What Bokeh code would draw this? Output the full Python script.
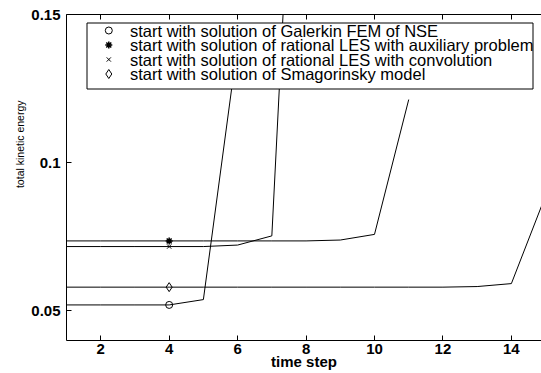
from bokeh.plotting import figure
from bokeh.models import (LinearAxis, FixedTicker, BoxAnnotation, Label, Title,
                          CustomLabelingPolicy)
from bokeh.embed import file_html
from bokeh.resources import INLINE

# ---------------- data ----------------
steps_galerkin = [1, 2, 3, 4, 5, 6]
ke_galerkin = [0.0520, 0.0520, 0.0520, 0.0520, 0.0538, 0.1400]

steps_aux = [1, 2, 3, 4, 5, 6, 7, 8, 9, 10, 11]
ke_aux = [0.0736, 0.0736, 0.0736, 0.0736, 0.0736, 0.0736, 0.0736, 0.0736,
          0.0739, 0.0758, 0.1213]

steps_conv = [1, 2, 3, 4, 5, 6, 7, 8]
ke_conv = [0.0717, 0.0717, 0.0717, 0.0717, 0.0717, 0.0722, 0.0753, 0.3030]

steps_smag = [1, 2, 3, 4, 5, 6, 7, 8, 9, 10, 11, 12, 13, 14, 15]
ke_smag = [0.0580, 0.0580, 0.0580, 0.0580, 0.0580, 0.0580, 0.0580, 0.0580,
           0.0580, 0.0580, 0.0580, 0.0580, 0.0582, 0.0592, 0.0889]

marker_step = 4

labels = [
    "start with solution of Galerkin FEM of NSE",
    "start with solution of rational LES with auxiliary problem",
    "start with solution of rational LES with convolution",
    "start with solution of Smagorinsky model",
]

x_ticks = [2, 4, 6, 8, 10, 12, 14]
x_tick_labels = ["2", "4", "6", "8", "10", "12", "14"]
y_ticks = [0.05, 0.1, 0.15]
y_tick_labels = ["0.05", "0.1", "0.15"]
x_label = "time step"
y_label = "total kinetic energy"

# ---------------- layout / style ----------------
FONT = "Liberation Sans"
X0, X1 = 1, 14.88
Y0, Y1 = 0.04, 0.15
FW, FH = 475, 326          # frame size in px
BL, BT, BB = 66, 14, 33    # borders

p = figure(frame_width=FW, frame_height=FH,
           x_range=(X0, X1), y_range=(Y0, Y1),
           min_border_left=BL, min_border_right=0,
           min_border_top=BT, min_border_bottom=BB,
           output_backend="svg", toolbar_location=None,
           background_fill_color="white", border_fill_color="white")
p.outline_line_color = None
p.xgrid.visible = False
p.ygrid.visible = False

# lines
series = [(steps_galerkin, ke_galerkin), (steps_aux, ke_aux),
          (steps_conv, ke_conv), (steps_smag, ke_smag)]
for xs, ys in series:
    p.line(xs, ys, line_color="black", line_width=1)

marker_styles = [
    dict(marker="circle", size=7, fill_color=None, line_color="black", line_width=1),
    dict(marker="asterisk", size=7, line_color="black", line_width=1.5),
    dict(marker="x", size=6, line_color="black", line_width=1),
    dict(marker="diamond", size=9, fill_color=None, line_color="black", line_width=1),
]

# markers at the starting step
for (xs, ys), st in zip(series, marker_styles):
    i = xs.index(marker_step)
    p.scatter([xs[i]], [ys[i]], **st)

# axes styling
xaxis = p.xaxis[0]
yaxis = p.yaxis[0]
xaxis.ticker = FixedTicker(ticks=x_ticks)
xaxis.major_label_overrides = dict(zip(x_ticks, x_tick_labels))
yaxis.ticker = FixedTicker(ticks=y_ticks)
yaxis.major_label_overrides = dict(zip(y_ticks, y_tick_labels))

for ax in (xaxis, yaxis):
    ax.axis_line_color = "black"
    ax.axis_line_width = 1
    ax.major_tick_line_color = "black"
    ax.minor_tick_line_color = None
    ax.major_tick_in = 5
    ax.major_tick_out = 0
    ax.major_label_text_font = FONT
    ax.major_label_text_font_size = "15px"
    ax.major_label_text_font_style = "bold"
    ax.major_label_text_color = "black"

xaxis.major_label_standoff = 3
xaxis.axis_label = x_label
xaxis.axis_label_text_font = FONT
xaxis.axis_label_text_font_size = "15px"
xaxis.axis_label_text_font_style = "bold"
xaxis.axis_label_standoff = -4
xaxis.axis_label_text_color = "black"

yaxis.major_label_standoff = 6

# top frame edge with inward ticks, no labels
top = LinearAxis(ticker=FixedTicker(ticks=x_ticks),
                 major_label_text_font_size="0px",
                 major_label_standoff=0,
                 major_label_policy=CustomLabelingPolicy(
                     code="for (const i of Array.from(indices)) indices.unset(i); return indices;"),
                 axis_line_color="black", axis_line_width=1,
                 major_tick_line_color="black", minor_tick_line_color=None,
                 major_tick_in=5, major_tick_out=0)
p.add_layout(top, "above")

# y label as a side title, placed towards the upper part like the reference
p.add_layout(Title(text=y_label, align="right", offset=86, standoff=6,
                   text_font=FONT, text_font_size="10.5px",
                   text_font_style="normal", text_color="black"), "left")

# ---------------- legend (box, keys, texts) ----------------
LG_LEFT, LG_RIGHT, LG_TOP, LG_BOTTOM = 86.5, 532.5, 22.5, 88.5   # canvas px
ROW0, ROW_PITCH = 30.0, 14.5
KEY_X, TEXT_X = 108.3, 129.5

def fx(px):   # canvas x -> frame screen x
    return px - BL
def fy(py):   # canvas y -> frame screen y (from bottom)
    return BT + FH - py

p.add_layout(BoxAnnotation(left=fx(LG_LEFT), right=fx(LG_RIGHT),
                           top=fy(LG_TOP), bottom=fy(LG_BOTTOM),
                           left_units="screen", right_units="screen",
                           top_units="screen", bottom_units="screen",
                           fill_color="white", fill_alpha=1,
                           line_color="black", line_width=1, line_alpha=1))

key_x_data = X0 + (KEY_X - BL) / FW * (X1 - X0)
for k, (lab, st) in enumerate(zip(labels, marker_styles)):
    cy = ROW0 + k * ROW_PITCH
    key_y_data = Y1 - (cy - BT) / FH * (Y1 - Y0)
    r = p.scatter([key_x_data], [key_y_data], **st)
    r.level = "overlay"
    p.add_layout(Label(x=fx(TEXT_X), y=fy(cy), x_units="screen", y_units="screen",
                       text=lab, text_align="left", text_baseline="middle",
                       text_font=FONT, text_font_size="16.5px", text_color="black"))

open("out.html", "w").write(file_html(p, INLINE))
